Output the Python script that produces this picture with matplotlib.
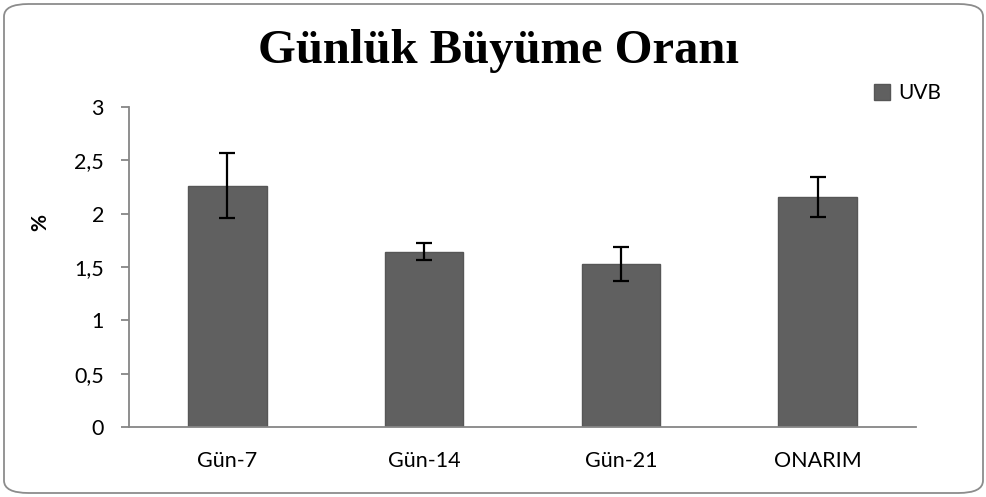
import matplotlib.pyplot as plt
from matplotlib.patches import FancyBboxPatch
import numpy as np

# datos
categories = ["Gün-7", "Gün-14", "Gün-21", "ONARIM"]
uvb = [2.26, 1.645, 1.525, 2.155]
uvb_err = [0.305, 0.077, 0.16, 0.187]
yticks = [0, 0.5, 1, 1.5, 2, 2.5, 3]
ytick_labels = ["0", "0,5", "1", "1,5", "2", "2,5", "3"]

plt.rcParams['font.family'] = ['Lato', 'DejaVu Sans']

fig = plt.figure(figsize=(9.87, 4.97), dpi=100)
ax = fig.add_axes([129 / 987, 70 / 497, 787 / 987, 320 / 497])

# marco redondeado del grafico
frame = FancyBboxPatch((4 / 987, 4 / 497), 979 / 987, 489 / 497,
                       boxstyle="round,pad=0,rounding_size=0.025",
                       transform=fig.transFigure, facecolor="white",
                       edgecolor="#8c8c8c", linewidth=1.3, zorder=-10)
fig.patches.append(frame)

x = np.arange(len(categories))
ax.bar(x, uvb, width=0.4, color="#606060", edgecolor="#565656",
       linewidth=1, label="UVB", zorder=2)
ax.errorbar(x, uvb, yerr=uvb_err, fmt="none", ecolor="black",
            elinewidth=1.6, capsize=6, capthick=1.6, zorder=3)

ax.set_xlim(-0.5, 3.5)
ax.set_ylim(0, 3)
ax.set_yticks(yticks)
ax.set_yticklabels(ytick_labels)
ax.set_xticks(x)
ax.set_xticklabels(categories)

for side in ["top", "right"]:
    ax.spines[side].set_visible(False)
for side in ["left", "bottom"]:
    ax.spines[side].set_color("#868686")
    ax.spines[side].set_linewidth(1.3)

ax.tick_params(axis="y", length=6, width=1.3, color="#868686",
               labelsize=15.5, pad=12)
ax.tick_params(axis="x", length=0, labelsize=15.5, pad=17)

ax.set_ylabel("%", fontsize=15, fontweight="bold")
ax.yaxis.set_label_coords(-0.1, 0.64)

fig.text(0.5055, (497 - 63) / 497, "Günlük Büyüme Oranı", ha="center",
         va="baseline", fontsize=35, fontweight="bold",
         family="Liberation Serif")

ax.legend(loc="center left", bbox_to_anchor=(874 / 987, 404 / 497),
          bbox_transform=fig.transFigure, frameon=False, fontsize=15,
          handlelength=0.75, handleheight=0.8, handletextpad=0.4,
          borderaxespad=0, borderpad=0)

fig.savefig("out.png", dpi=100)
